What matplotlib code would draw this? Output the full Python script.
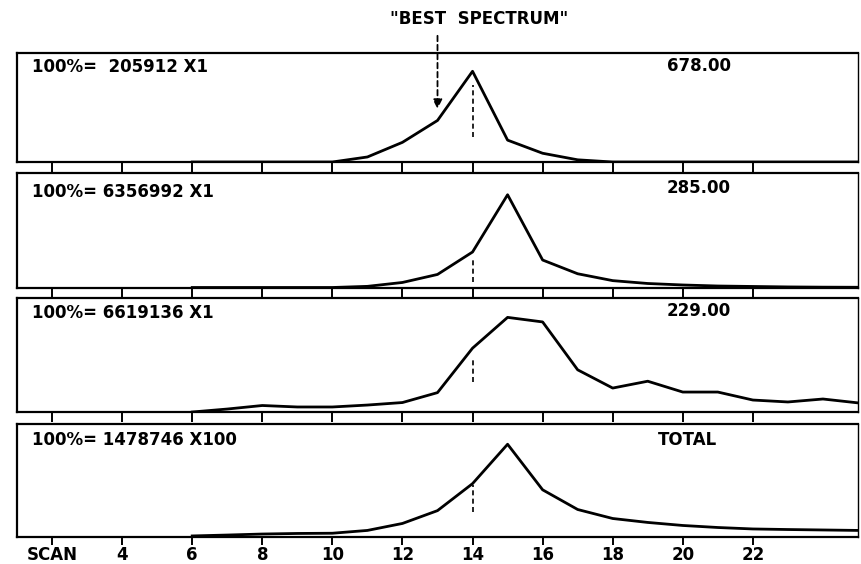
import numpy as np
import matplotlib
matplotlib.use("Agg")
import matplotlib.pyplot as plt

# scan numbers and intensities (% of panel height)
scans = list(range(6, 26))
p1 = [0, 0, 0, 0, 0, 4.6, 18, 38, 83, 20, 8, 2, 0, 0, 0, 0, 0, 0, 0, 0]
p2 = [0, 0, 0, 0, 0, 1, 4.4, 11.4, 31, 81, 24, 12, 6, 3.5, 2.2, 1.3, 0.9, 0.5, 0.3, 0.2]
p3 = [0, 2.6, 5.7, 4.4, 4.4, 6.1, 8.3, 17, 56, 83, 79, 37, 21, 27, 17.5, 17.5, 10.5, 8.8, 11.4, 8]
p4 = [0.5, 1.3, 2.2, 2.7, 2.9, 5.4, 11.6, 23, 47, 82, 41.5, 24, 16, 12.5, 9.8, 8, 6.7, 6.2, 5.8, 5.4]

left_labels = ["100%=  205912 X1", "100%= 6356992 X1", "100%= 6619136 X1", "100%= 1478746 X100"]
right_labels = ["678.00", "285.00", "229.00", "TOTAL"]
best_scan = 14
best_marks = [(23, 70.6), (4.8, 25.8), (26, 47), (22, 46)]

tick_pos = list(range(2, 23, 2))
tick_lab = ["SCAN"] + [str(t) for t in tick_pos[1:]]

W, H = 861, 564
fig = plt.figure(figsize=(W / 100, H / 100), dpi=100)

# panel boxes in pixels: (top, bottom)
boxes = [(52.7, 162), (173, 287.5), (298, 412), (424, 536.5)]
lab_y = [0.869, 0.834, 0.868, 0.858]
rlab_y = [0.878, 0.869, 0.886, 0.858]
rlab_x = [0.773, 0.773, 0.773, 0.762]

font = dict(family="DejaVu Sans", weight="bold", fontsize=12)

axes = []
for i, (series, (top, bot)) in enumerate(zip([p1, p2, p3, p4], boxes)):
    ax = fig.add_axes([17 / W, (H - bot) / H, 841 / W, (bot - top) / H])
    ax.plot(scans, series, color="black", lw=2.0)
    lo, hi = best_marks[i]
    ax.vlines(best_scan, lo, hi, colors="black", linestyles=(0, (3, 2)), lw=1.2)
    ax.set_xlim(1, 25)
    ax.set_ylim(0, 100)
    ax.set_yticks([])
    ax.set_xticks(tick_pos)
    ax.tick_params(axis="x", direction="out", length=7.5, width=1.4, color="black")
    if i < 3:
        ax.set_xticklabels([])
    else:
        ax.set_xticklabels(tick_lab, **font)
        ax.tick_params(axis="x", length=5.5, pad=1)
    for s in ax.spines.values():
        s.set_linewidth(1.6)
        s.set_color("black")
    ax.spines["right"].set_linewidth(1.0)
    ax.text(0.018, lab_y[i], left_labels[i], transform=ax.transAxes, va="center", ha="left", **font)
    ax.text(rlab_x[i], rlab_y[i], right_labels[i], transform=ax.transAxes, va="center", ha="left", **font)
    axes.append(ax)

# "best spectrum" pointer on the top panel
ax = axes[0]
ax.annotate("", xy=(13, 46), xytext=(13, 118), annotation_clip=False,
            arrowprops=dict(arrowstyle="-|>", color="black", lw=1.3, linestyle=(0, (3, 2)),
                            mutation_scale=14))
ax.text(14.2, 131, '"BEST  SPECTRUM"', ha="center", va="center", clip_on=False, **font)

fig.savefig("out.png", dpi=100)
